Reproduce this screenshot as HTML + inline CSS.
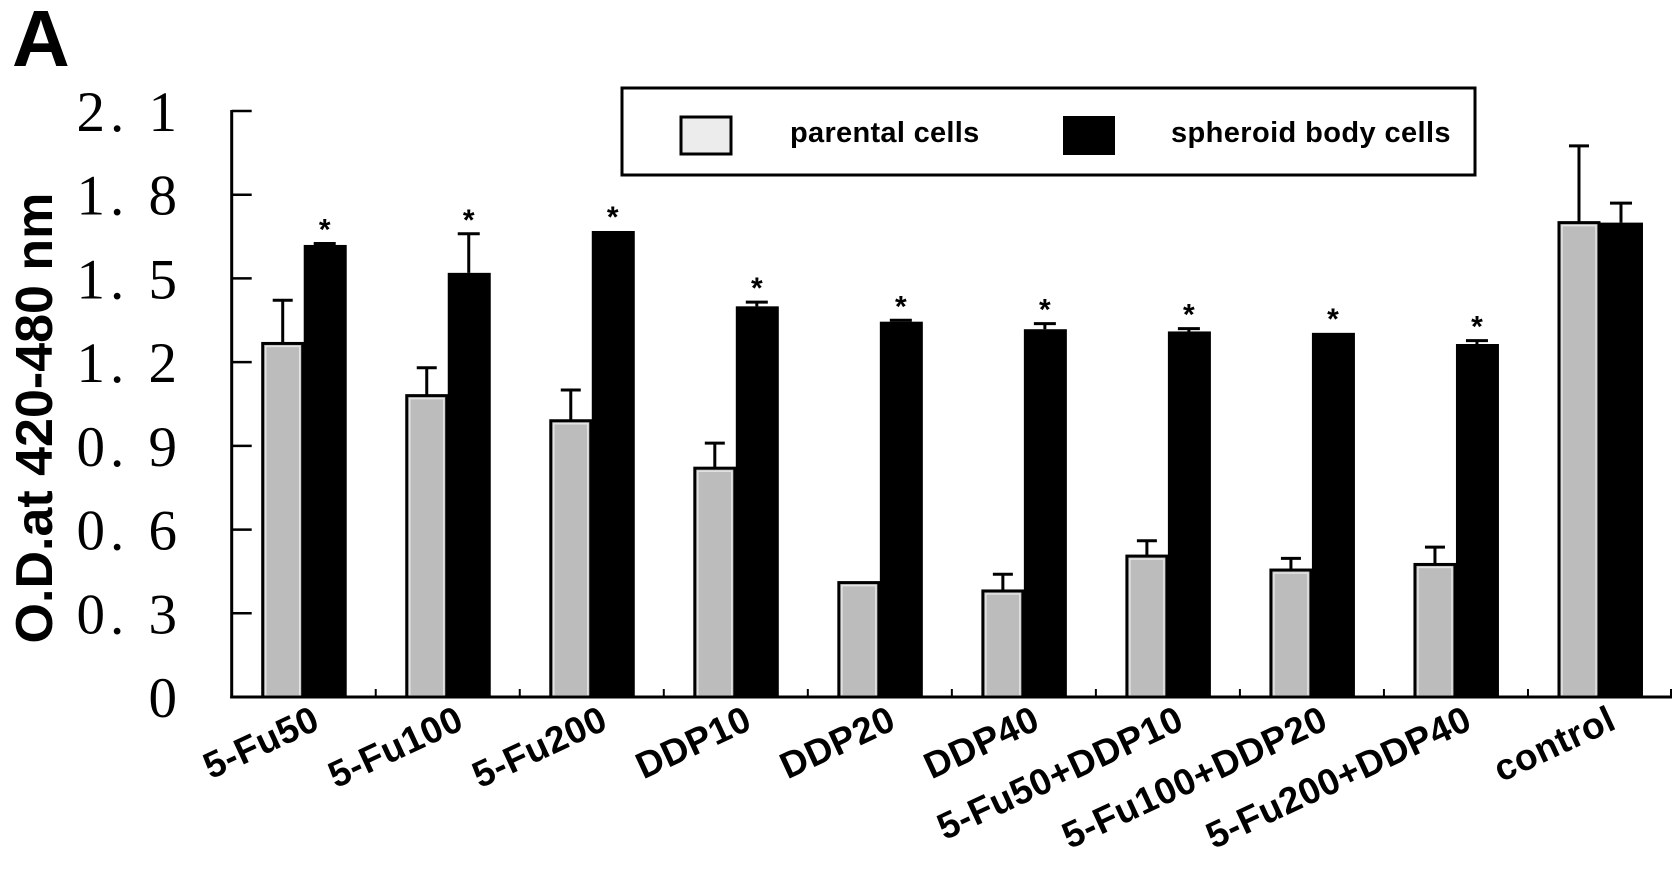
<!DOCTYPE html>
<html><head><meta charset="utf-8"><style>
html,body{margin:0;padding:0;background:#fff;}
svg{display:block;}
</style></head><body>
<svg id="chart" width="1677" height="895" viewBox="0 0 1677 895" xmlns="http://www.w3.org/2000/svg">
<text x="12" y="66" font-family="Liberation Sans, sans-serif" font-weight="bold" font-size="80">A</text>
<text transform="translate(52,418) rotate(-90)" text-anchor="middle" font-family="Liberation Sans, sans-serif" font-weight="bold" font-size="52">O.D.at 420-480 nm</text>
<g id="yticks"></g>
<g id="bars"></g>
<g id="xlabels"></g>
<g>
<rect x="622" y="88" width="853" height="87" fill="#fff" stroke="#000" stroke-width="3"/>
<rect x="681" y="117" width="50" height="37" fill="#ececec" stroke="#000" stroke-width="3"/>
<text x="790" y="142" font-family="Liberation Sans, sans-serif" font-weight="bold" font-size="29" letter-spacing="0.3">parental cells</text>
<rect x="1063" y="116" width="52" height="39" fill="#000"/>
<text x="1171" y="142" font-family="Liberation Sans, sans-serif" font-weight="bold" font-size="29" letter-spacing="0.4">spheroid body cells</text>
</g>
</svg>
<script>
const categories = ["5-Fu50","5-Fu100","5-Fu200","DDP10","DDP20","DDP40","5-Fu50+DDP10","5-Fu100+DDP20","5-Fu200+DDP40","control"];
const parentalValues = [1.267,1.08,0.99,0.82,0.41,0.38,0.505,0.455,0.475,1.70];
const parentalErrors = [0.155,0.10,0.11,0.09,0,0.06,0.055,0.042,0.062,0.275];
const spheroidValues = [1.62,1.52,1.67,1.40,1.345,1.318,1.31,1.305,1.265,1.70];
const spheroidErrors = [0.005,0.14,0,0.015,0.005,0.02,0.01,0,0.012,0.07];
const significant = [1,1,1,1,1,1,1,1,1,0];
const yTickLabels = ["0","0. 3","0. 6","0. 9","1. 2","1. 5","1. 8","2. 1"];
const yTickValues = [0,0.3,0.6,0.9,1.2,1.5,1.8,2.1];

const NS="http://www.w3.org/2000/svg";
const X0=231.7, X1=1672, Y0=697, YMAX=2.1, YTOP=111;
const n=categories.length, step=(X1-X0)/n;
function yScale(v){return Y0-(v/YMAX)*(Y0-YTOP);}
function xCenter(i){return X0+step*(i+0.5);}
function mk(tag,attrs,parent){const e=document.createElementNS(NS,tag);for(const k in attrs)e.setAttribute(k,attrs[k]);parent.appendChild(e);return e;}

const yt=document.getElementById('yticks');
const bars=document.getElementById('bars');
const xl=document.getElementById('xlabels');

let ax=mk('line',{x1:X0,y1:YTOP-1,x2:X0,y2:Y0+1.5,stroke:'#000','stroke-width':3},yt);


yTickValues.forEach((v,i)=>{
  const t=mk('line',{x1:X0,y1:yScale(v),x2:X0+20,y2:yScale(v),stroke:'#000','stroke-width':2.5},yt);
  
  
  const lb=mk('text',{x:182,y:yScale(v)+20,'text-anchor':'end','font-family':'Liberation Serif, serif','font-size':57,'letter-spacing':5},yt);
  
  
  lb.setAttribute('xml:space','preserve');
  lb.textContent=yTickLabels[i];
});

for(let i=0;i<n;i++){
  const c=xCenter(i);
  const gy=yScale(parentalValues[i]);
  if(parentalErrors[i]>0){
    const ey=yScale(parentalValues[i]+parentalErrors[i]);
    const e=mk('path',{d:`M${c-21},${gy} V${ey} M${c-31},${ey} H${c-11}`,stroke:'#000','stroke-width':3,fill:'none'},bars);
    
    
  }
  const g=mk('rect',{x:c-41,y:gy,width:40,height:Y0-gy,fill:'#bcbcbc',stroke:'#000','stroke-width':3},bars);
  
  
  const gi=mk('rect',{x:c-38,y:gy+3,width:34,height:Y0-gy-4,fill:'none',stroke:'#e4e4e4','stroke-width':1.5},bars);
  
  
  const by=yScale(spheroidValues[i]);
  if(spheroidErrors[i]>0){
    const ey=yScale(spheroidValues[i]+spheroidErrors[i]);
    const e=mk('path',{d:`M${c+21},${by} V${ey} M${c+10},${ey} H${c+32}`,stroke:'#000','stroke-width':3,fill:'none'},bars);
    
    
  }
  const b=mk('rect',{x:c,y:by,width:43,height:Y0-by,fill:'#000'},bars);
  
  
  if(significant[i]){
    const top=yScale(spheroidValues[i]+spheroidErrors[i]);
    const s=mk('text',{x:c+21,y:top-4,'text-anchor':'middle','font-family':'Liberation Sans, sans-serif','font-weight':'bold','font-size':30},bars);
    
    
    s.textContent='*';
  }
  if(i>0){
    const tk=mk('line',{x1:X0+step*i,y1:Y0,x2:X0+step*i,y2:Y0-8,stroke:'#000','stroke-width':2},bars);
    
    
  }
  const lb=mk('text',{transform:`translate(${c+18},728) rotate(-25)`,'text-anchor':'end','font-family':'Liberation Sans, sans-serif','font-weight':'bold','font-size':37,'letter-spacing':0.5},xl);
  
  
  lb.textContent=categories[i];
}
const xa=mk('line',{x1:X0-1.5,y1:Y0,x2:X1,y2:Y0,stroke:'#000','stroke-width':3},bars);


const te=mk('line',{x1:X1-1,y1:Y0,x2:X1-1,y2:Y0-8,stroke:'#000','stroke-width':2},bars);


</script>
</body></html>
